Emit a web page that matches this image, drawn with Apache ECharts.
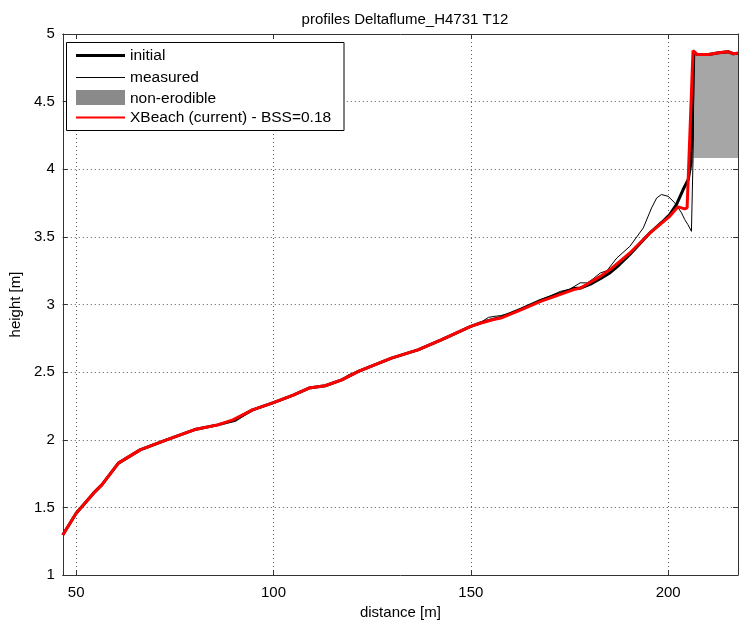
<!DOCTYPE html>
<html>
<head>
<meta charset="utf-8">
<script src="https://cdn.jsdelivr.net/npm/echarts@6/dist/echarts.min.js"></script>
<style>
html,body{margin:0;padding:0;background:#fff;}
#chart{width:739px;height:626px;}
</style>
</head>
<body>
<div id="chart"></div>
<script>
// ---- data ----
var xTicks = [50, 100, 150, 200];
var yTicks = [1, 1.5, 2, 2.5, 3, 3.5, 4, 4.5, 5];

var initialX = [46.6, 50.0, 54.4, 56.5, 60.7, 66.2, 72.9, 80.4, 85.9, 89.7, 94.7, 100, 105, 109, 113.1, 117.3, 121.5, 129.9, 136.6, 142.5, 150, 152.6, 155.5, 157.6, 162.7, 167.7, 172, 176.1, 177.8, 180.3, 182.8, 185.3, 187.5, 190.3, 195.4, 198.5, 200.4, 202.1, 203.8, 205.1, 205.8, 206.3, 206.5, 207.3, 210.3, 212.8, 215.2, 216.5, 217.7];
var initialY = [1.296, 1.457, 1.605, 1.666, 1.827, 1.925, 1.999, 2.078, 2.110, 2.140, 2.221, 2.275, 2.330, 2.382, 2.399, 2.443, 2.505, 2.604, 2.665, 2.739, 2.838, 2.866, 2.890, 2.905, 2.965, 3.030, 3.075, 3.118, 3.122, 3.150, 3.190, 3.235, 3.290, 3.370, 3.530, 3.610, 3.665, 3.739, 3.850, 3.924, 4.050, 4.600, 4.870, 4.849, 4.849, 4.861, 4.869, 4.854, 4.857];

var measuredX = [46.6, 50.0, 54.4, 56.5, 60.7, 66.2, 72.9, 80.4, 85.9, 88.5, 90.5, 94.7, 100, 105, 109, 113.1, 117.3, 119, 121.5, 129.9, 136.6, 142.5, 150, 152.6, 154.5, 155.9, 157.6, 160.1, 162.7, 165.5, 167.7, 170, 172.7, 175, 177.7, 179.5, 181, 182.8, 184.5, 187, 190.3, 193.7, 195.8, 197.1, 198.3, 200, 201.7, 203.4, 204.2, 205, 205.9, 206.3, 206.4, 206.5, 207.3, 210.3, 212.8, 215.2, 216.5, 217.7];
var measuredY = [1.296, 1.457, 1.605, 1.670, 1.827, 1.925, 1.999, 2.078, 2.110, 2.128, 2.138, 2.221, 2.275, 2.330, 2.382, 2.399, 2.443, 2.480, 2.505, 2.604, 2.665, 2.739, 2.838, 2.870, 2.905, 2.912, 2.918, 2.937, 2.965, 3.000, 3.036, 3.062, 3.097, 3.112, 3.160, 3.160, 3.190, 3.233, 3.250, 3.344, 3.430, 3.566, 3.714, 3.788, 3.813, 3.800, 3.751, 3.677, 3.628, 3.591, 3.541, 3.534, 4.200, 4.870, 4.849, 4.849, 4.861, 4.869, 4.854, 4.857];

var xbeachX = [46.6, 50.0, 54.4, 56.5, 60.7, 66.2, 72.9, 80.4, 85.9, 89.7, 94.7, 100, 105, 109, 113.1, 117.3, 121.5, 129.9, 136.6, 142.5, 150, 152.6, 155.5, 157.6, 162.7, 167.7, 172, 176.1, 177.8, 180.3, 182.8, 185.3, 190.3, 195.4, 200.4, 202.5, 204.2, 204.8, 206.3, 207.3, 210.3, 212.8, 215.2, 216.5, 217.7];
var xbeachY = [1.296, 1.457, 1.605, 1.666, 1.827, 1.925, 1.999, 2.078, 2.110, 2.147, 2.221, 2.275, 2.330, 2.382, 2.399, 2.443, 2.505, 2.604, 2.665, 2.739, 2.838, 2.863, 2.887, 2.900, 2.960, 3.023, 3.068, 3.110, 3.122, 3.165, 3.208, 3.258, 3.381, 3.529, 3.652, 3.722, 3.707, 3.714, 4.877, 4.849, 4.849, 4.861, 4.869, 4.854, 4.857];

var nonErodX = [206.5, 207.3, 210.3, 212.8, 215.2, 216.5, 217.7];
var nonErodTop = [4.870, 4.849, 4.849, 4.861, 4.869, 4.854, 4.857];
var nonErodBase = 4.084;

var xMin = 46.6, xMax = 217.7, yMin = 1, yMax = 5;
var xbeachLabel = 'XBeach (current) - BSS=0.18';

function zip(a, b) { return a.map(function (v, i) { return [v, b[i]]; }); }

var FONT = '"Liberation Sans", Arial, sans-serif';
var chart = echarts.init(document.getElementById('chart'), null, {renderer: 'canvas'});

var gridLine = {show: true, lineStyle: {color: '#555', type: [1, 3], width: 1}};
var axisLine = {show: true, lineStyle: {color: '#333', width: 1}};

var option = {
  animation: false,
  backgroundColor: '#fff',
  title: {
    text: 'profiles Deltaflume_H4731 T12',
    left: 400, textAlign: 'center', top: 7,
    textStyle: {fontFamily: FONT, fontSize: 15, fontWeight: 'normal', color: '#000'}
  },
  grid: {left: 59, right: 1, top: 34, bottom: 51, containLabel: false},
  xAxis: [{
    type: 'value', min: xMin, max: xMax, position: 'bottom',
    name: 'distance [m]', nameLocation: 'middle', nameGap: 25,
    nameTextStyle: {fontFamily: FONT, fontSize: 15, color: '#000'},
    axisLine: axisLine,
    axisTick: {show: true, inside: true, length: 5, customValues: xTicks, lineStyle: {color: '#333'}},
    axisLabel: {customValues: xTicks, fontFamily: FONT, fontSize: 15, color: '#000', margin: 10},
    splitLine: gridLine
  }, {
    type: 'value', min: xMin, max: xMax, position: 'top',
    axisLine: axisLine,
    axisTick: {show: true, inside: true, length: 5, customValues: xTicks, lineStyle: {color: '#333'}},
    axisLabel: {show: false, customValues: xTicks},
    splitLine: {show: false}
  }],
  yAxis: [{
    type: 'value', min: yMin, max: yMax, interval: 0.5, position: 'left',
    name: 'height [m]', nameLocation: 'middle', nameGap: 35,
    nameTextStyle: {fontFamily: FONT, fontSize: 15, color: '#000'},
    axisLine: axisLine,
    axisTick: {show: true, inside: true, length: 5, lineStyle: {color: '#333'}},
    axisLabel: {fontFamily: FONT, fontSize: 15, color: '#000', margin: 8},
    splitLine: gridLine
  }, {
    type: 'value', min: yMin, max: yMax, interval: 0.5, position: 'right',
    axisLine: axisLine,
    axisTick: {show: true, inside: true, length: 5, lineStyle: {color: '#333'}},
    axisLabel: {show: false},
    splitLine: {show: false}
  }],
  series: [{
    name: 'non-erodible', type: 'custom', xAxisIndex: 0, yAxisIndex: 0, z: 1,
    data: zip(nonErodX, nonErodTop),
    renderItem: function (params, api) {
      if (params.dataIndex !== 0) return null;
      var pts = nonErodX.map(function (x, i) { return api.coord([x, nonErodTop[i]]); });
      pts.push(api.coord([nonErodX[nonErodX.length - 1], nonErodBase]));
      pts.push(api.coord([nonErodX[0], nonErodBase]));
      return {type: 'polygon', shape: {points: pts}, style: {fill: '#a6a6a6', stroke: null}};
    }
  }, {
    name: 'initial', type: 'line', data: zip(initialX, initialY), z: 2,
    showSymbol: false, symbol: 'none', lineStyle: {color: '#000', width: 3}
  }, {
    name: 'measured', type: 'line', data: zip(measuredX, measuredY), z: 3,
    showSymbol: false, symbol: 'none', lineStyle: {color: '#000', width: 1}
  }, {
    name: xbeachLabel, type: 'line', data: zip(xbeachX, xbeachY), z: 4,
    showSymbol: false, symbol: 'none', lineStyle: {color: '#ff0000', width: 3}
  }],
  graphic: {
    elements: [
      {type: 'rect', z: 100, shape: {x: 66.5, y: 42.5, width: 277.5, height: 88}, style: {fill: '#fff', stroke: '#000', lineWidth: 1}},
      {type: 'line', z: 101, shape: {x1: 76, y1: 55.5, x2: 125, y2: 55.5}, style: {stroke: '#000', lineWidth: 3}},
      {type: 'text', z: 101, x: 130, y: 56, style: {text: 'initial', font: '15.5px ' + FONT, fill: '#000', verticalAlign: 'middle'}},
      {type: 'line', z: 101, shape: {x1: 76, y1: 77.5, x2: 125, y2: 77.5}, style: {stroke: '#000', lineWidth: 1}},
      {type: 'text', z: 101, x: 130, y: 77.5, style: {text: 'measured', font: '15.5px ' + FONT, fill: '#000', verticalAlign: 'middle'}},
      {type: 'rect', z: 101, shape: {x: 76, y: 90, width: 49, height: 15}, style: {fill: '#8a8a8a'}},
      {type: 'text', z: 101, x: 130, y: 98.5, style: {text: 'non-erodible', font: '15.5px ' + FONT, fill: '#000', verticalAlign: 'middle'}},
      {type: 'line', z: 101, shape: {x1: 76, y1: 117.5, x2: 125, y2: 117.5}, style: {stroke: '#ff0000', lineWidth: 2}},
      {type: 'text', z: 101, x: 130, y: 118, style: {text: xbeachLabel, font: '15.5px ' + FONT, fill: '#000', verticalAlign: 'middle'}}
    ]
  }
};
chart.setOption(option);
</script>
</body>
</html>
